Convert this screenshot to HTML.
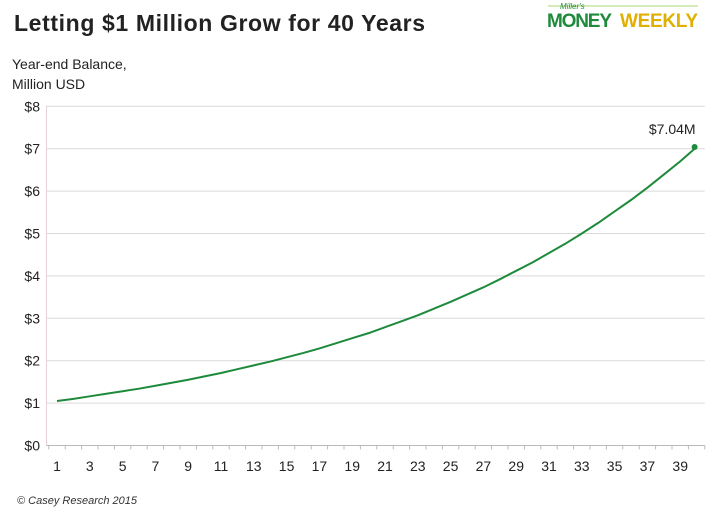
<!DOCTYPE html>
<html><head><meta charset="utf-8"><style>
body{margin:0;background:#fff;width:720px;height:514px;overflow:hidden;font-family:"Liberation Sans",sans-serif}
</style></head><body>
<svg width="720" height="514" id="c">
<text x="14" y="31" font-size="23" font-weight="bold" fill="#222" textLength="411">Letting $1 Million Grow for 40 Years</text>
<g>
<line x1="548" y1="6" x2="698" y2="6" stroke="#8cc63f" stroke-width="0.8"/>
<text x="560" y="9" font-size="8" font-style="italic" fill="#2a8a3a">Miller's</text>
<text x="547" y="27" font-size="19" font-weight="bold" fill="#1e8a3c" textLength="65">MONEY</text>
<text x="620" y="27" font-size="19" font-weight="bold" fill="#e0b000" textLength="78">WEEKLY</text>
</g>
<text x="12" y="69" font-size="14" fill="#222">Year-end Balance,</text>
<text x="12" y="89" font-size="14" fill="#222">Million USD</text>
<text x="17" y="504" font-size="11" font-style="italic" fill="#333">© Casey Research 2015</text>
<g id="plot"></g>
</svg>
<script>
const years=[1,2,3,4,5,6,7,8,9,10,11,12,13,14,15,16,17,18,19,20,21,22,23,24,25,26,27,28,29,30,31,32,33,34,35,36,37,38,39,40];
const balance=[1.05,1.10,1.16,1.22,1.28,1.34,1.41,1.48,1.55,1.63,1.71,1.80,1.89,1.98,2.08,2.18,2.29,2.41,2.53,2.65,2.79,2.93,3.07,3.23,3.39,3.56,3.73,3.92,4.12,4.32,4.54,4.76,5.00,5.25,5.52,5.79,6.08,6.39,6.70,7.04];
const yTicks=[0,1,2,3,4,5,6,7,8];
const endLabel="$7.04M";
const NS="http://www.w3.org/2000/svg";
const g=document.getElementById('plot');
const x0=48.8,band=16.4,yBase=445.5,yUnit=42.4;
const xs=i=>x0+band*(i+0.5);
const ys=v=>yBase-v*yUnit;
function mk(t,a){const e=document.createElementNS(NS,t);for(const k in a)e.setAttribute(k,a[k]);g.appendChild(e);return e;}
const xEnd=x0+band*years.length;
yTicks.forEach(v=>{
 const l=mk('line',{x1:46,x2:xEnd,y1:ys(v),y2:ys(v),stroke:v===0?'#bbb':'#d9d9d9','stroke-width':1});
 
 
 const t=mk('text',{x:40,y:ys(v)+5,'text-anchor':'end','font-size':14,fill:'#222'});
 t.textContent='$'+v;
 
 
});
const ax=mk('line',{x1:46.5,x2:46.5,y1:ys(8),y2:yBase,stroke:'#e8d0d8','stroke-width':1});


for(let i=0;i<=years.length;i++){
 const tk=mk('line',{x1:x0+band*i,x2:x0+band*i,y1:yBase,y2:yBase+4,stroke:'#bbb'});
 
 
}
years.forEach((y,i)=>{
 if(y%2===1){
  const t=mk('text',{x:xs(i),y:471,'text-anchor':'middle','font-size':14,fill:'#222'});
  t.textContent=y;
  
  
 }
});
const p=mk('polyline',{points:balance.map((v,i)=>xs(i)+','+ys(v)).join(' '),fill:'none',stroke:'#1e8a3c','stroke-width':2});


const li=balance.length-1;
const d=mk('circle',{cx:xs(li)-2,cy:ys(balance[li]),r:3,fill:'#1e8a3c'});


const lt=mk('text',{x:xs(li)-1,y:ys(balance[li])-13,'text-anchor':'end','font-size':14,fill:'#222'});
lt.textContent=endLabel;


</script>
</body></html>
